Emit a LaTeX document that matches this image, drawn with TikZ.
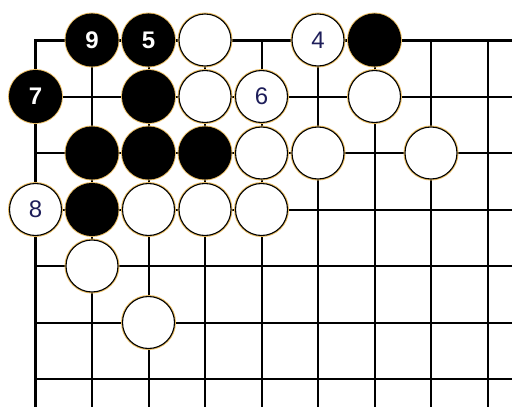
\documentclass[tikz,border=0pt]{standalone}
\usepackage{fontspec}
\setmainfont{Liberation Sans}
\definecolor{halo}{RGB}{235,190,100}
\definecolor{wtxt}{RGB}{30,30,90}
\tikzset{
  stone/.style={circle, minimum size=52pt, inner sep=0pt, line width=1.1pt, font=\fontsize{24}{24}\selectfont},
  bstone/.style={stone, fill=black, draw=black, text=white, font=\fontsize{24}{24}\selectfont\bfseries},
  wstone/.style={stone, fill=white, draw=black, text=wtxt},
  edgeline/.style={line width=3pt},
  gridline/.style={line width=2pt},
}
\begin{document}
\begin{tikzpicture}[x=1pt,y=-1pt]
\useasboundingbox (0,0) rectangle (512,407);
\fill[white] (0,0) rectangle (512,407);
% grid
\foreach \i in {1,...,8} {
  \draw[gridline] ({35.5+56.5*\i},40) -- ({35.5+56.5*\i},407);
}
\foreach \j in {1,...,6} {
  \draw[gridline] (35.5,{40+56.5*\j}) -- (512,{40+56.5*\j});
}
\draw[edgeline] (35.5,407) -- (35.5,40) -- (512,40);
% stones
\newcommand{\stn}[5]{%
  \fill[halo] ({35.5+56.5*#2},{40+56.5*#3}) circle (27.5pt);
  \node[#4] (#1) at ({35.5+56.5*#2},{40+56.5*#3}) {#5};}
% row 0
\stn{b9}{1}{0}{bstone}{9}
\stn{b5}{2}{0}{bstone}{5}
\stn{w30}{3}{0}{wstone}{}
\stn{w4}{5}{0}{wstone}{4}
\stn{b60}{6}{0}{bstone}{}
% row 1
\stn{b7}{0}{1}{bstone}{7}
\stn{b21}{2}{1}{bstone}{}
\stn{w31}{3}{1}{wstone}{}
\stn{w6}{4}{1}{wstone}{6}
\stn{w61}{6}{1}{wstone}{}
% row 2
\stn{b12}{1}{2}{bstone}{}
\stn{b22}{2}{2}{bstone}{}
\stn{b32}{3}{2}{bstone}{}
\stn{w42}{4}{2}{wstone}{}
\stn{w52}{5}{2}{wstone}{}
\stn{w72}{7}{2}{wstone}{}
% row 3
\stn{w8}{0}{3}{wstone}{8}
\stn{b13}{1}{3}{bstone}{}
\stn{w23}{2}{3}{wstone}{}
\stn{w33}{3}{3}{wstone}{}
\stn{w43}{4}{3}{wstone}{}
% rows 4,5
\stn{w14}{1}{4}{wstone}{}
\stn{w25}{2}{5}{wstone}{}
\end{tikzpicture}
\end{document}
